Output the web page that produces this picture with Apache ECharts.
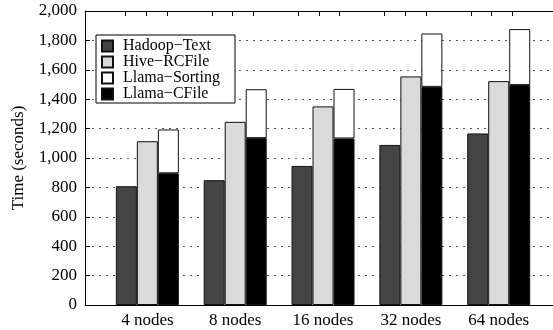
<!DOCTYPE html>
<html>
<head>
<meta charset="utf-8">
<script src="https://cdn.jsdelivr.net/npm/echarts@6/dist/echarts.min.js"></script>
<style>
html,body{margin:0;padding:0;background:#fff;}
#chart{width:553px;height:330px;}
</style>
</head>
<body>
<div id="chart"></div>
<script>
const categories = ['4 nodes', '8 nodes', '16 nodes', '32 nodes', '64 nodes'];
const hadoopText = [808, 849, 946, 1089, 1167];
const hiveRCFile = [1114, 1246, 1351, 1555, 1523];
const llamaCFile = [896, 1135, 1133, 1484, 1496];
const llamaSorting = [298, 333, 337, 363, 381];
const yTicks = [0, 200, 400, 600, 800, 1000, 1200, 1400, 1600, 1800, 2000];

const FONT = 'Liberation Serif';
const BAR_W = 21;
const GROUP_PX = 87.84;
const FRAME_LEFT = 85;
const FIRST_CENTER = 147.35;
const X_MIN = -(FIRST_CENTER - FRAME_LEFT) / GROUP_PX;
const X_MAX = (categories.length - 1) - X_MIN;
const off = BAR_W / GROUP_PX;

const barCenters = [];
categories.forEach((c, i) => { barCenters.push(i - off, i, i + off); });

const barGridLeft = FIRST_CENTER - GROUP_PX / 2;
const barGridRight = 553 - (barGridLeft + GROUP_PX * categories.length);
const frameRight = 553 - (FRAME_LEFT + (X_MAX - X_MIN) * GROUP_PX);

const chart = echarts.init(document.getElementById('chart'), null, {renderer: 'canvas'});
const border = {borderColor: '#111', borderWidth: 1};
const Y_MIN = yTicks[0], Y_MAX = yTicks[yTicks.length - 1];

chart.setOption({
  animation: false,
  backgroundColor: '#fff',
  textStyle: {fontFamily: FONT},
  grid: [
    {left: FRAME_LEFT, right: frameRight, top: 11, bottom: 25, containLabel: false},
    {left: barGridLeft, right: barGridRight, top: 11, bottom: 25, containLabel: false}
  ],
  legend: {
    orient: 'vertical',
    left: 96, top: 35,
    data: ['Hadoop−Text', 'Hive−RCFile', 'Llama−Sorting', 'Llama−CFile'],
    itemWidth: 11, itemHeight: 11, itemGap: 0,
    padding: [3, 15, 1, 5],
    borderColor: '#000', borderWidth: 1, borderRadius: 0,
    backgroundColor: '#fff',
    icon: 'rect',
    textStyle: {fontFamily: FONT, fontSize: 16, color: '#000', lineHeight: 15, padding: [0, 0, 0, 5]}
  },
  xAxis: [{
    gridIndex: 0, type: 'value', min: X_MIN, max: X_MAX, position: 'bottom',
    axisLine: {show: true, onZero: false, lineStyle: {color: '#000', width: 1}},
    axisTick: {show: false},
    splitLine: {show: false},
    axisLabel: {show: false}
  }, {
    gridIndex: 0, type: 'value', min: X_MIN, max: X_MAX, position: 'top',
    axisLine: {show: true, onZero: false, lineStyle: {color: '#000', width: 1}},
    axisTick: {show: true, inside: true, length: 5, customValues: barCenters, lineStyle: {color: '#000', width: 1}},
    axisLabel: {show: true, customValues: barCenters, formatter: () => ''},
    splitLine: {show: false}
  }, {
    gridIndex: 1, type: 'category', data: categories, position: 'bottom',
    axisLine: {show: false, onZero: false},
    axisTick: {show: false},
    splitLine: {show: false},
    axisLabel: {fontFamily: FONT, fontSize: 17, color: '#000', margin: 7, interval: 0}
  }],
  yAxis: [{
    gridIndex: 0, type: 'value', min: Y_MIN, max: Y_MAX, interval: 200, position: 'left',
    name: 'Time (seconds)', nameLocation: 'middle', nameRotate: 90, nameGap: 58,
    nameTextStyle: {fontFamily: FONT, fontSize: 17, color: '#000'},
    axisLine: {show: true, onZero: false, lineStyle: {color: '#000', width: 1}},
    axisTick: {show: true, inside: true, length: 5, lineStyle: {color: '#000'}},
    axisLabel: {
      fontFamily: FONT, fontSize: 17, color: '#000', margin: 8,
      formatter: v => v.toLocaleString('en-US')
    },
    splitLine: {show: true, lineStyle: {color: '#555', width: 1, type: [2, 5]}}
  }, {
    gridIndex: 1, type: 'value', min: Y_MIN, max: Y_MAX, interval: 200,
    axisLine: {show: false, onZero: false}, axisTick: {show: false}, axisLabel: {show: false}, splitLine: {show: false}
  }],
  series: [
    {name: 'Hadoop−Text', type: 'bar', xAxisIndex: 2, yAxisIndex: 1, data: hadoopText, barWidth: BAR_W, barGap: '0%',
     itemStyle: Object.assign({color: '#444444'}, border)},
    {name: 'Hive−RCFile', type: 'bar', xAxisIndex: 2, yAxisIndex: 1, data: hiveRCFile, barWidth: BAR_W, barGap: '0%',
     itemStyle: Object.assign({color: '#dadada'}, border)},
    {name: 'Llama−CFile', type: 'bar', xAxisIndex: 2, yAxisIndex: 1, stack: 'llama', data: llamaCFile, barWidth: BAR_W, barGap: '0%',
     itemStyle: Object.assign({color: '#000000'}, border)},
    {name: 'Llama−Sorting', type: 'bar', xAxisIndex: 2, yAxisIndex: 1, stack: 'llama', data: llamaSorting, barWidth: BAR_W, barGap: '0%',
     itemStyle: Object.assign({color: '#ffffff'}, border)}
  ]
});
</script>
</body>
</html>
